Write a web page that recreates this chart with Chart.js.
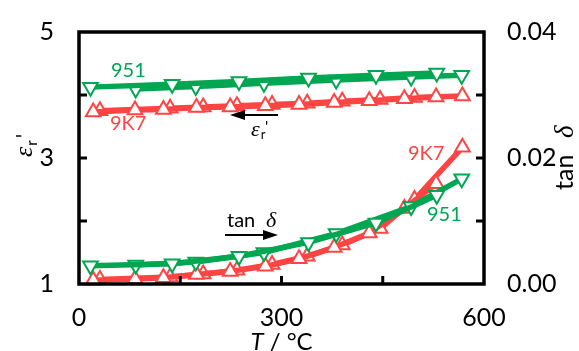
<!DOCTYPE html>
<html><head><meta charset="utf-8">
<script src="https://cdn.jsdelivr.net/npm/chart.js@4"></script>
<style>html,body{margin:0;padding:0;background:#fff;overflow:hidden}</style>
</head><body>
<canvas id="c" width="579" height="351"></canvas>
<script>
// ---- data ----
// sample 951, two runs (markers alternate)
const t951a   = [17, 138, 237, 340, 440, 530];
const eps951a = [4.125, 4.17, 4.215, 4.27, 4.315, 4.35];
const tan951a = [0.0029, 0.0032, 0.0044, 0.0066, 0.0097, 0.0141];
const t951b   = [84, 173, 274, 381, 492, 567];
const eps951b = [4.095, 4.135, 4.185, 4.24, 4.285, 4.315];
const tan951b = [0.0030, 0.0035, 0.0050, 0.0080, 0.0123, 0.0167];
// sample 9K7, two runs
const t9k7a   = [21, 83, 125, 174, 224, 276, 326, 378, 430, 482, 529];
const eps9k7a = [3.73, 3.76, 3.77, 3.80, 3.81, 3.83, 3.85, 3.88, 3.91, 3.94, 3.97];
const tan9k7a = [0.0006, 0.0008, 0.0010, 0.0015, 0.0020, 0.0028, 0.0040, 0.0058, 0.0081, 0.0120, 0.0159];
const t9k7b   = [31, 135, 184, 234, 286, 338, 390, 446, 497, 568];
const eps9k7b = [3.75, 3.79, 3.81, 3.83, 3.85, 3.87, 3.90, 3.93, 3.96, 3.985];
const tan9k7b = [0.0007, 0.0011, 0.0016, 0.0022, 0.0031, 0.0044, 0.0062, 0.0088, 0.0134, 0.0217];
// axis ticks
const xTicksShown  = [0, 300, 600];
const yTicksShown  = [1, 3, 5];
const y2TicksShown = ['0.00', '0.02', '0.04'];

const GREEN = '#00a651', RED = '#ff4444';
const pts = (xs, ys) => xs.map((x, i) => ({x: x, y: ys[i]}));

function ds(label, xs, ys, color, axis, down) {
  return {
    label: label, data: pts(xs, ys), yAxisID: axis,
    borderColor: color, borderWidth: 5.5, tension: 0,
    borderJoinStyle: 'round', borderCapStyle: 'round',
    pointStyle: 'triangle', pointRadius: 8.5, pointRotation: down ? 180 : 0,
    pointBorderColor: color, pointBorderWidth: 2, pointBackgroundColor: '#fff',
    clip: false
  };
}

const SANS = 'Lato';
const SERIF = '"Liberation Serif"';

function txt(ctx, s, x, y, font, color) {
  ctx.font = font; ctx.fillStyle = color; ctx.fillText(s, x, y);
  return ctx.measureText(s).width;
}
function arrow(ctx, x1, x2, y) { // head at x2
  const dir = Math.sign(x2 - x1), hl = 15, hw = 5;
  ctx.strokeStyle = '#000'; ctx.lineWidth = 2;
  ctx.beginPath(); ctx.moveTo(x1, y); ctx.lineTo(x2 - dir * hl, y); ctx.stroke();
  ctx.fillStyle = '#000';
  ctx.beginPath(); ctx.moveTo(x2, y); ctx.lineTo(x2 - dir * hl, y - hw); ctx.lineTo(x2 - dir * hl, y + hw); ctx.closePath(); ctx.fill();
}

const decor = {
  id: 'decor',
  afterDraw(chart) {
    const ctx = chart.ctx, a = chart.chartArea, s = chart.scales;
    ctx.save();
    // frame
    ctx.strokeStyle = '#000'; ctx.lineWidth = 3.5; ctx.lineCap = 'butt';
    ctx.strokeRect(a.left, a.top, a.right - a.left, a.bottom - a.top);
    // inward ticks
    ctx.lineWidth = 3; const L = 8;
    ctx.beginPath();
    s.x.ticks.forEach(t => { if (t.value > s.x.min && t.value < s.x.max) { const p = s.x.getPixelForValue(t.value); ctx.moveTo(p, a.bottom); ctx.lineTo(p, a.bottom - L); } });
    s.y.ticks.forEach(t => { if (t.value > s.y.min && t.value < s.y.max) { const p = s.y.getPixelForValue(t.value); ctx.moveTo(a.left, p); ctx.lineTo(a.left + L, p); } });
    s.y2.ticks.forEach(t => { if (t.value > s.y2.min + 1e-9 && t.value < s.y2.max - 1e-9) { const p = s.y2.getPixelForValue(t.value); ctx.moveTo(a.right, p); ctx.lineTo(a.right - L, p); } });
    ctx.stroke();

    ctx.textBaseline = 'alphabetic'; ctx.textAlign = 'left';
    // series labels
    txt(ctx, '951', 111, 77, '20px ' + SANS, GREEN);
    txt(ctx, '9K7', 110, 130, '20px ' + SANS, RED);
    txt(ctx, '9K7', 408, 160, '20px ' + SANS, RED);
    txt(ctx, '951', 427, 221, '20px ' + SANS, GREEN);
    // eps arrow (left)
    arrow(ctx, 278, 230, 115);
    let w = txt(ctx, 'ε', 251, 136, 'italic 22px ' + SERIF, '#000');
    txt(ctx, 'r', 251 + w + 1, 139, '13px ' + SANS, '#000');
    txt(ctx, "'", 265, 132, '16px ' + SANS, '#000');
    // tan delta arrow (right)
    txt(ctx, 'tan', 227, 227, '20px ' + SANS, '#000');
    txt(ctx, 'δ', 266, 227, 'italic 22px ' + SERIF, '#000');
    arrow(ctx, 225, 278, 235);

    // x title
    ctx.font = 'italic 24px ' + SANS; const wT = ctx.measureText('T').width;
    ctx.font = '24px ' + SANS; const wR = ctx.measureText(' / °C').width;
    let x0 = (a.left + a.right) / 2 - (wT + wR) / 2;
    txt(ctx, 'T', x0, 350, 'italic 24px ' + SANS, '#000');
    txt(ctx, ' / °C', x0 + wT, 350, '24px ' + SANS, '#000');

    // left title (rotated)
    ctx.save();
    ctx.translate(32, 157); ctx.rotate(-Math.PI / 2);
    w = txt(ctx, 'ε', 0, 0, 'italic 26px ' + SERIF, '#000');
    const wr = txt(ctx, 'r', w + 1, 5, '15px ' + SANS, '#000');
    txt(ctx, "'", w + wr + 3, -1, '22px ' + SANS, '#000');
    ctx.restore();

    // right title (rotated)
    ctx.save();
    ctx.translate(573, 190); ctx.rotate(-Math.PI / 2);
    txt(ctx, 'tan', 0, 0, '25px ' + SANS, '#000');
    txt(ctx, 'δ', 52, 0, 'italic 27px ' + SERIF, '#000');
    ctx.restore();
    ctx.restore();
  }
};

const tickFont = {family: SANS, size: 25};
new Chart(document.getElementById('c'), {
  type: 'line',
  data: {datasets: [
    ds('951 εr\' run 1', t951a, eps951a, GREEN, 'y', true),
    ds('951 εr\' run 2', t951b, eps951b, GREEN, 'y', true),
    ds('951 tanδ run 1', t951a, tan951a, GREEN, 'y2', true),
    ds('951 tanδ run 2', t951b, tan951b, GREEN, 'y2', true),
    ds('9K7 εr\' run 1', t9k7a, eps9k7a, RED, 'y', false),
    ds('9K7 εr\' run 2', t9k7b, eps9k7b, RED, 'y', false),
    ds('9K7 tanδ run 1', t9k7a, tan9k7a, RED, 'y2', false),
    ds('9K7 tanδ run 2', t9k7b, tan9k7b, RED, 'y2', false)
  ]},
  options: {
    responsive: false, animation: false, devicePixelRatio: 1,
    layout: {padding: {top: 24, left: 0, right: 0, bottom: 0}},
    plugins: {legend: {display: false}, tooltip: {enabled: false}, title: {display: false}},
    scales: {
      x: {type: 'linear', position: 'bottom', min: 0, max: 600,
        grid: {display: false}, border: {display: false},
        ticks: {stepSize: 150, autoSkip: false, maxRotation: 0, padding: 11, color: '#000', font: tickFont,
          callback: v => xTicksShown.includes(v) ? String(v) : ''},
        afterFit: sc => { sc.height = 67; }},
      y: {type: 'linear', position: 'left', min: 1, max: 5,
        grid: {display: false}, border: {display: false},
        ticks: {stepSize: 1, autoSkip: false, padding: 17, color: '#000', font: tickFont,
          callback: v => yTicksShown.includes(v) ? String(v) : ''},
        afterFit: sc => { sc.width = 79; }},
      y2: {type: 'linear', position: 'right', min: 0, max: 0.04,
        grid: {display: false}, border: {display: false},
        ticks: {stepSize: 0.01, autoSkip: false, padding: 15, color: '#000', font: tickFont,
          callback: v => { const s = (Math.round(v * 100) / 100).toFixed(2); return y2TicksShown.includes(s) ? s : ''; }},
        afterFit: sc => { sc.width = 95; }}
    }
  },
  plugins: [decor]
});
</script>
</body></html>
